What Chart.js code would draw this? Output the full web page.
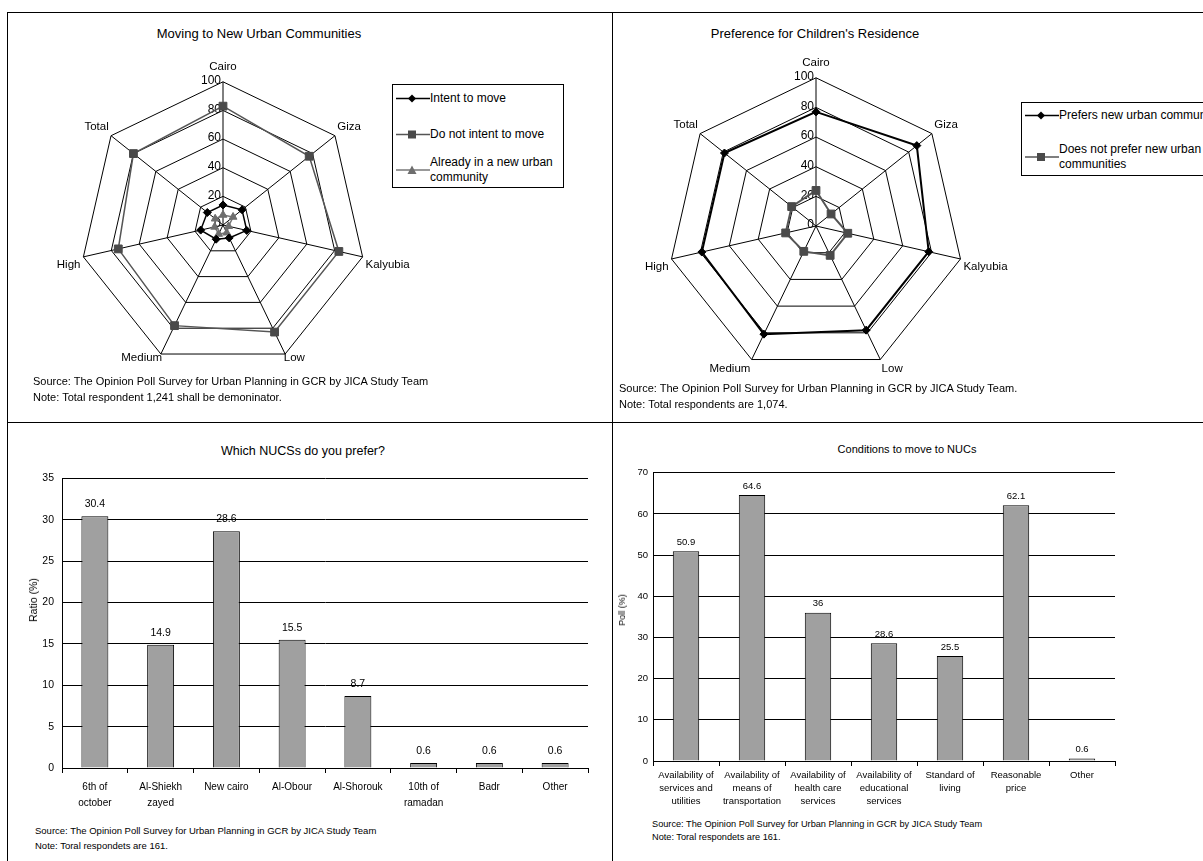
<!DOCTYPE html>
<html>
<head>
<meta charset="utf-8">
<title>New Urban Communities - opinion poll</title>
<script src="https://cdn.jsdelivr.net/npm/chart.js@4.4.1/dist/chart.umd.min.js"></script>
<style>
  html, body { margin: 0; padding: 0; }
  body { width: 1203px; height: 861px; overflow: hidden; background: #fff; position: relative;
         font-family: "Liberation Sans", Arial, sans-serif; color: #000; }
  .frame { position: absolute; left: 7px; top: 12px; width: 1240px; height: 900px; border: 1px solid #000; }
  .vline { position: absolute; left: 612px; top: 12px; width: 1px; height: 900px; background: #000; }
  .hline { position: absolute; left: 7px; top: 422px; width: 1240px; height: 1px; background: #000; }
  .ttl { position: absolute; white-space: nowrap; transform: translate(-50%, -50%); }
  .note { position: absolute; white-space: nowrap; }
  .ytitle { position: absolute; white-space: nowrap; transform: translate(-50%, -50%) rotate(-90deg); }
  canvas { position: absolute; }
  .legend { position: absolute; border: 1px solid #000; background: #fff; font-size: 12px; z-index: 2; }
  .lrow { position: absolute; left: 0; display: flex; align-items: center; transform: translateY(-50%); }
  .lrow svg { flex: none; margin-left: 3px; }
  .lrow span { line-height: 15px; }
</style>
</head>
<body>
<div class="frame"></div>
<div class="vline"></div>
<div class="hline"></div>

<div class="ttl" style="left:259px; top:33px; font-size:13px;">Moving to New Urban Communities</div>
<div class="ttl" style="left:815px; top:33px; font-size:13px;">Preference for Children's Residence</div>
<div class="ttl" style="left:303px; top:451px; font-size:12.5px;">Which NUCSs do you prefer?</div>
<div class="ttl" style="left:907px; top:449px; font-size:11px;">Conditions to move to NUCs</div>

<canvas id="radarMove" width="440" height="330" style="left:3px; top:50px;"></canvas>
<canvas id="radarChildren" width="440" height="340" style="left:596px; top:46px;"></canvas>
<canvas id="barNucs" width="584" height="352" style="left:8px; top:464px;"></canvas>
<canvas id="barConditions" width="511" height="351" style="left:614px; top:462px;"></canvas>

<div class="ytitle" style="left:33px; top:600px; font-size:10.5px;">Ratio (%)</div>
<div class="ytitle" style="left:622px; top:610px; font-size:9px;">Poll (%)</div>

<div class="legend" id="legendMove" style="left:392px; top:84px; width:170px; height:102px;"></div>
<div class="legend" id="legendChildren" style="left:1021px; top:102px; width:222px; height:72px;"></div>

<div class="note" style="left:33px; top:373px; font-size:11px; line-height:16px;">
  Source: The Opinion Poll Survey for Urban Planning in GCR by JICA Study Team<br>
  Note: Total respondent 1,241 shall be demoninator.
</div>
<div class="note" style="left:619px; top:380px; font-size:11px; line-height:16px;">
  Source: The Opinion Poll Survey for Urban Planning in GCR by JICA Study Team.<br>
  Note: Total respondents are 1,074.
</div>
<div class="note" style="left:35px; top:823px; font-size:9.5px; line-height:15px;">
  Source: The Opinion Poll Survey for Urban Planning in GCR by JICA Study Team<br>
  Note: Toral respondets are 161.
</div>
<div class="note" style="left:652px; top:818px; font-size:9.2px; line-height:13px;">
  Source: The Opinion Poll Survey for Urban Planning in GCR by JICA Study Team<br>
  Note: Toral respondets are 161.
</div>

<script>
// radar axes, shared by both radar charts
const radarAxes = ['Cairo', 'Giza', 'Kalyubia', 'Low', 'Medium', 'High', 'Total'];
const radarTicks = [0, 20, 40, 60, 80, 100];

// Moving to New Urban Communities (%)
const intentToMove = [14, 17, 17, 10, 11, 16, 14];
const notIntentToMove = [83, 77, 83, 83, 78, 75, 80];
const alreadyInNuc = [7, 9, 4, 6, 7, 6, 7];

// Preference for Children's Residence (%)
const prefersNuc = [77, 87, 78, 78, 81, 79, 79];
const notPrefersNuc = [24, 13, 22, 22, 19, 21, 21];

// Which NUCs do you prefer? (%)
const nucNames = [['6th of', 'october'], ['Al-Shiekh', 'zayed'], 'New cairo', 'Al-Obour',
                  'Al-Shorouk', ['10th of', 'ramadan'], 'Badr', 'Other'];
const nucShares = [30.4, 14.9, 28.6, 15.5, 8.7, 0.6, 0.6, 0.6];
const nucTicks = [0, 5, 10, 15, 20, 25, 30, 35];

// Conditions to move to NUCs (%)
const conditionNames = [['Availability of', 'services and', 'utilities'],
                        ['Availability of', 'means of', 'transportation'],
                        ['Availability of', 'health care', 'services'],
                        ['Availability of', 'educational', 'services'],
                        ['Standard of', 'living'], ['Reasonable', 'price'], 'Other'];
const conditionPolls = [50.9, 64.6, 36, 28.6, 25.5, 62.1, 0.6];
const conditionTicks = [0, 10, 20, 30, 40, 50, 60, 70];

const FONT = '"Liberation Sans", Arial, sans-serif';
Chart.defaults.font.family = FONT;
Chart.defaults.color = '#000';
Chart.defaults.animation = false;
Chart.defaults.responsive = false;
Chart.defaults.plugins.legend.display = false;
Chart.defaults.plugins.tooltip.enabled = false;

// value labels 0..100 sit just left of the vertical (Cairo) spoke
const radarTickLabels = {
  id: 'radarTickLabels',
  beforeDatasetsDraw(chart) {
    const s = chart.scales.r, ctx = chart.ctx;
    ctx.save();
    ctx.font = '12px ' + FONT;
    ctx.textAlign = 'right';
    ctx.textBaseline = 'middle';
    ctx.fillStyle = '#000';
    radarTicks.forEach(v => {
      ctx.fillText(String(v), s.xCenter - 2, s.yCenter - s.getDistanceFromCenterForValue(v) - 1);
    });
    ctx.restore();
  }
};

// numbers printed above each bar
const barValueLabels = {
  id: 'barValueLabels',
  afterDatasetsDraw(chart, args, opts) {
    const ctx = chart.ctx;
    const values = chart.data.datasets[0].data;
    ctx.save();
    ctx.font = opts.size + 'px ' + FONT;
    ctx.textAlign = 'center';
    ctx.textBaseline = 'middle';
    ctx.fillStyle = '#000';
    chart.getDatasetMeta(0).data.forEach((bar, i) => {
      ctx.fillText(String(values[i]), bar.x, bar.y - opts.gap);
    });
    ctx.restore();
  }
};

const markerSvg = {
  rectRot: c => `<polygon points="16,1 20,5 16,9 12,5" fill="${c}"/>`,
  rect: c => `<rect x="12" y="1" width="8" height="8" fill="${c}"/>`,
  triangle: c => `<polygon points="16,0.5 20.5,9 11.5,9" fill="${c}"/>`
};

function buildLegend(id, series, firstRow, rowGap, textWidth) {
  const box = document.getElementById(id);
  series.forEach((s, i) => {
    const row = document.createElement('div');
    row.className = 'lrow';
    row.style.top = (firstRow + rowGap * i) + 'px';
    row.innerHTML = `<svg width="34" height="10"><line x1="0" y1="5" x2="34" y2="5" stroke="${s.line}" stroke-width="1.5"/>` +
      markerSvg[s.point](s.fill) + `</svg><span style="max-width:${textWidth}px">${s.name}</span>`;
    box.appendChild(row);
  });
}

function radarChart(id, series, labelGap) {
  return new Chart(document.getElementById(id), {
    type: 'radar',
    data: {
      labels: radarAxes,
      datasets: series.map(s => ({
        label: s.name,
        data: s.data,
        fill: false,
        borderColor: s.line,
        borderWidth: s.width,
        pointStyle: s.point,
        pointRadius: s.radius,
        pointBackgroundColor: s.fill,
        pointBorderColor: s.fill,
        pointBorderWidth: 1
      }))
    },
    plugins: [radarTickLabels],
    options: {
      scales: {
        r: {
          min: radarTicks[0],
          max: radarTicks[radarTicks.length - 1],
          ticks: { display: false, stepSize: radarTicks[1] - radarTicks[0] },
          grid: { color: '#000', lineWidth: 1 },
          angleLines: { color: '#000', lineWidth: 1 },
          pointLabels: { color: '#000', padding: ctx => labelGap[ctx.index], font: { size: 11.5 } }
        }
      }
    }
  });
}

const moveSeries = [
  { name: 'Intent to move', data: intentToMove, line: '#000', fill: '#000', width: 1.5, point: 'rectRot', radius: 4 },
  { name: 'Do not intent to move', data: notIntentToMove, line: '#555', fill: '#4a4a4a', width: 1.5, point: 'rect', radius: 5.5 },
  { name: 'Already in a new urban community', data: alreadyInNuc, line: '#777', fill: '#6e6e6e', width: 1.5, point: 'triangle', radius: 4.5 }
];
const childrenSeries = [
  { name: 'Prefers new urban communities', data: prefersNuc, line: '#000', fill: '#000', width: 2, point: 'rectRot', radius: 4 },
  { name: 'Does not prefer new urban communities', data: notPrefersNuc, line: '#555', fill: '#4a4a4a', width: 2, point: 'rect', radius: 5.5 }
];

// gap between each spoke tip and its label
radarChart('radarMove', moveSeries, [8, 3, 3, -3, -3, 3, 3]);
radarChart('radarChildren', childrenSeries, [8, 3, 3, 3, 3, 3, 3]);
buildLegend('legendMove', moveSeries, 13, 36, 131);
buildLegend('legendChildren', childrenSeries, 12, 42, 180);

function barChart(id, names, values, ticks, o) {
  return new Chart(document.getElementById(id), {
    type: 'bar',
    data: {
      labels: names,
      datasets: [{
        data: values,
        backgroundColor: '#a0a0a0',
        borderColor: '#000',
        borderWidth: 1,
        categoryPercentage: 1,
        barPercentage: o.barPct
      }]
    },
    plugins: [barValueLabels],
    options: {
      layout: { padding: { top: 10, right: o.padRight, left: 0, bottom: 0 } },
      plugins: { barValueLabels: { size: o.valueSize, gap: o.valueGap } },
      scales: {
        x: {
          grid: { offset: true, drawOnChartArea: false, color: '#000', tickLength: 5 },
          border: { color: '#000' },
          ticks: { color: '#000', autoSkip: false, maxRotation: 0, padding: o.xPad,
                   font: { size: o.xSize, lineHeight: o.xLine } },
          afterFit(s) { s.height = o.xHeight; }
        },
        y: {
          min: ticks[0],
          max: ticks[ticks.length - 1],
          ticks: { stepSize: ticks[1] - ticks[0], color: '#000', padding: o.yPad, font: { size: o.ySize } },
          grid: { color: '#000', drawTicks: false },
          border: { color: '#000' },
          afterFit(s) { s.width = o.yWidth; }
        }
      }
    }
  });
}

barChart('barNucs', nucNames, nucShares, nucTicks, {
  barPct: 0.41, padRight: 4, valueSize: 10.5, valueGap: 12,
  xPad: 6, xSize: 10, xLine: 1.6, xHeight: 48, yPad: 8, ySize: 10.5, yWidth: 54
});
barChart('barConditions', conditionNames, conditionPolls, conditionTicks, {
  barPct: 0.4, padRight: 10, valueSize: 9.5, valueGap: 9,
  xPad: 3, xSize: 9.5, xLine: 1.37, xHeight: 52, yPad: 5, ySize: 9.5, yWidth: 39
});
</script>
</body>
</html>
